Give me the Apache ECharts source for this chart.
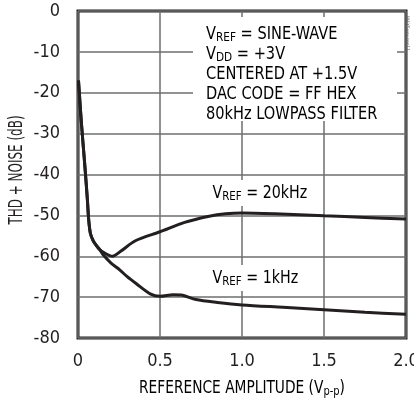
<!DOCTYPE html>
<html><head><meta charset="utf-8">
<script src="https://cdn.jsdelivr.net/npm/echarts@6/dist/echarts.min.js"></script>
<style>html,body{margin:0;padding:0;background:#fff}#c{width:414px;height:405px}</style>
</head><body><div id="c"></div>
<script>
const FONT = '"DejaVu Sans Condensed","Liberation Sans Narrow",Arial,sans-serif';
const INK = '#231f20';
const yTicks = [0,-10,-20,-30,-40,-50,-60,-70,-80];
const xTicks = ['0','0.5','1.0','1.5','2.0'];
const amp20k = [0.003,0.02,0.04,0.057,0.065,0.075,0.09,0.105,0.13,0.17,0.21,0.26,0.35,0.5,0.65,0.8,0.9,1.0,1.2,1.5,1.75,2.0];
const thd20k = [-17,-27,-37,-46,-51,-54.3,-56,-57,-58.3,-59.4,-60,-58.8,-56.2,-54,-51.7,-50.2,-49.6,-49.4,-49.6,-50.1,-50.5,-50.9];
const amp1k = [0.003,0.02,0.04,0.057,0.065,0.075,0.09,0.105,0.13,0.155,0.2,0.256,0.3,0.358,0.44,0.5,0.58,0.63,0.72,0.85,1.0,1.25,1.5,1.75,2.0];
const thd1k = [-17,-27,-37,-46,-51,-54.3,-56,-57,-58.2,-59.7,-61.6,-63.4,-65,-66.8,-69.2,-69.8,-69.4,-69.5,-70.6,-71.3,-71.9,-72.5,-73.1,-73.7,-74.2];
const noteLines = [
  ['V','REF',' = SINE-WAVE'],
  ['V','DD',' = +3V'],
  ['CENTERED AT +1.5V','',''],
  ['DAC CODE = FF HEX','',''],
  ['80kHz LOWPASS FILTER','','']
];
const label20k = ['V','REF',' = 20kHz'];
const label1k = ['V','REF',' = 1kHz'];
const xTitle = ['REFERENCE AMPLITUDE (V','p-p',')'];
const yTitle = 'THD + NOISE (dB)';

const rich = {
  a:{fontFamily:FONT,fontSize:18,color:INK,lineHeight:20,verticalAlign:'middle'},
  s:{fontFamily:FONT,fontSize:13,color:INK,lineHeight:20,verticalAlign:'bottom',padding:[8,0,0,0]}
};
function rt(p){ return '{a|'+p[0]+'}' + (p[1]?'{s|'+p[1]+'}':'') + (p[2]?'{a|'+p[2]+'}':''); }

const chart = echarts.init(document.getElementById('c'));
const graphics = [
  {type:'rect', shape:{x:193,y:17,width:204,height:104}, style:{fill:'#fff'}, z:1},
  {type:'text', x:206, y:24, scaleX:0.9, z:2, style:{text:noteLines.map(rt).join('\n'), rich:rich}},
  {type:'text', x:208, y:180, scaleX:0.88, z:2, style:{text:rt(label20k), rich:rich, backgroundColor:'#fff', padding:[3,5,3,5]}},
  {type:'text', x:208, y:265, scaleX:0.88, z:2, style:{text:rt(label1k), rich:rich, backgroundColor:'#fff', padding:[3,5,3,5]}},
  {type:'text', x:242, y:388, scaleX:0.85, z:2, style:{text:rt(xTitle), rich:rich, align:'center', verticalAlign:'middle'}},
  {type:'text', x:17, y:170, rotation:Math.PI/2, scaleX:0.7, z:2, style:{text:yTitle, fontFamily:FONT, fontSize:19, fill:INK, align:'center', verticalAlign:'middle'}},
  {type:'text', x:410, y:16, rotation:-Math.PI/2, z:2, style:{text:'MAX5xxx toc11', fontSize:5, fill:'#666', fontFamily:FONT}}
];
chart.setOption({
  animation:false,
  backgroundColor:'#fff',
  grid:{left:78, right:8, top:11, bottom:67, show:true, borderColor:INK, borderWidth:3, outerBoundsMode:'none', containLabel:false},
  xAxis:{type:'value', min:0, max:2, interval:0.5,
    axisLine:{show:false}, axisTick:{show:false},
    splitLine:{show:true, lineStyle:{color:'#6d6e71', width:1.5}},
    axisLabel:{fontFamily:FONT, fontSize:18, color:INK, margin:14, hideOverlap:false,
      formatter:v=>xTicks[Math.round(v/0.5)]}
  },
  yAxis:{type:'value', min:-80, max:0, interval:10,
    axisLine:{show:false}, axisTick:{show:false},
    splitLine:{show:true, lineStyle:{color:'#6d6e71', width:1.5}},
    axisLabel:{fontFamily:FONT, fontSize:18, color:INK, margin:18,
      formatter:v=>String(yTicks[Math.round(-v/10)])}
  },
  graphic:graphics,
  series:[
    {type:'line', data:amp20k.map((x,i)=>[x,thd20k[i]]), smooth:0.3, symbol:'none', z:3,
      lineStyle:{color:INK, width:3}},
    {type:'line', data:amp1k.map((x,i)=>[x,thd1k[i]]), smooth:0.3, symbol:'none', z:3,
      lineStyle:{color:INK, width:3}}
  ]
});
</script></body></html>
